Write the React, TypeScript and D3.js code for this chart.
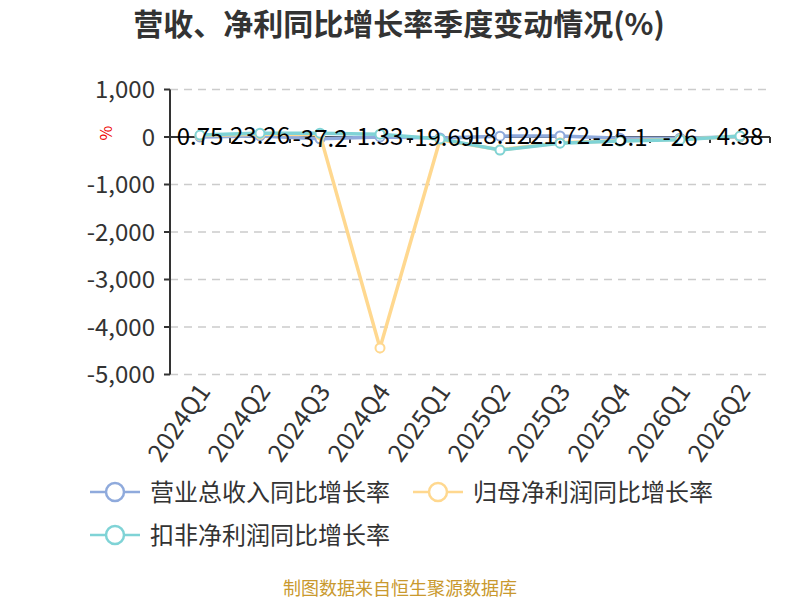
import React from "react";
import * as d3 from "d3";

const categories = ["2024Q1","2024Q2","2024Q3","2024Q4","2025Q1","2025Q2","2025Q3","2025Q4","2026Q1","2026Q2"];
const revenueGrowth = [0.75, 23.26, -37.2, 1.33, -19.69, 18.12, 21.72, -25.1, -26, 4.38];
const netProfitGrowth = [30, 60, 50, -4440, -60, -270, -120, -80, -50, 15];
const deductedProfitGrowth = [40, 80, 80, 60, -40, -275, -130, -85, -60, 20];
const yTicks = [1000, 0, -1000, -2000, -3000, -4000, -5000];

const seriesNames = ["营业总收入同比增长率", "归母净利润同比增长率", "扣非净利润同比增长率"];
const colors = ["#8FAADC", "#FFD88F", "#7FD3D6"];

const W = 800, H = 600;
const left = 170, right = 770, top = 89.5, bottom = 374.5;
const font = "'Microsoft YaHei', 'Noto Sans CJK SC', sans-serif";

export default function App() {
  const x = d3.scaleBand().domain(categories).range([left, right]);
  const y = d3.scaleLinear().domain([-5000, 1000]).range([bottom, top]);
  const cx = (c: string) => (x(c) as number) + x.bandwidth() / 2;
  const line = d3.line<number>().x((_, i) => cx(categories[i])).y((d) => y(d));
  const series = [revenueGrowth, netProfitGrowth, deductedProfitGrowth];
  const fmt = d3.formatLocale({ decimal: ".", thousands: ",", grouping: [3], currency: ["", ""], minus: "-" }).format(",");
  const y0 = y(0);

  return (
    <svg width={W} height={H} style={{ position: "absolute", left: 0, top: 0, background: "#fff" }} fontFamily={font}>
      <text x={399} y={35} textAnchor="middle" fontSize={30} fontWeight="bold" fill="#333">营收、净利同比增长率季度变动情况(%)</text>
      {/* grid */}
      {yTicks.filter((t) => t !== 0).map((t) => (
        <line key={t} x1={left} x2={right} y1={y(t)} y2={y(t)} stroke="#ccc" strokeDasharray="8,6" strokeWidth={1.5} />
      ))}
      {/* y axis */}
      <line x1={left} x2={left} y1={top} y2={bottom} stroke="#333" strokeWidth={2} />
      {yTicks.map((t) => (
        <g key={t}>
          <line x1={left - 6} x2={left} y1={y(t)} y2={y(t)} stroke="#333" strokeWidth={2} />
          <text x={left - 15} y={y(t)} dy="0.36em" textAnchor="end" fontSize={24} fill="#333">{fmt(t)}</text>
        </g>
      ))}
      <text transform={`translate(106,${y0 - 4}) rotate(-90)`} textAnchor="middle" fontSize={16} fill="#e00" dy="0.36em">%</text>
      {/* x axis at zero */}
      <line x1={left} x2={right} y1={y0} y2={y0} stroke="#333" strokeWidth={2} />
      {categories.map((c) => (
        <line key={c} x1={x(c) as number} x2={x(c) as number} y1={y0} y2={y0 + 6} stroke="#333" strokeWidth={2} />
      ))}
      <line x1={right} x2={right} y1={y0} y2={y0 + 6} stroke="#333" strokeWidth={2} />
      {categories.map((c) => (
        <text key={c} transform={`translate(${cx(c) + 4},${bottom + 12}) rotate(-55)`} textAnchor="end" dy="0.36em" fontSize={25} fill="#333">{c}</text>
      ))}
      {/* lines */}
      {series.map((s, k) => (
        <g key={k}>
          <path d={line(s) || ""} fill="none" stroke={colors[k]} strokeWidth={3.5} />
          {s.map((v, i) => (
            <circle key={i} cx={cx(categories[i])} cy={y(v)} r={4.5} fill="#fff" stroke={colors[k]} strokeWidth={2} />
          ))}
        </g>
      ))}
      {/* labels */}
      {revenueGrowth.map((v, i) => (
        <text key={i} x={cx(categories[i])} y={y(v) + 8} textAnchor="middle" fontSize={24} fill="#000">{String(v)}</text>
      ))}
      {/* legend */}
      {seriesNames.map((n, k) => {
        const lx = k === 1 ? 413 : 90;
        const ly = k === 2 ? 535 : 492;
        return (
          <g key={n}>
            <line x1={lx} x2={lx + 50} y1={ly} y2={ly} stroke={colors[k]} strokeWidth={2.5} />
            <circle cx={lx + 25} cy={ly} r={9} fill="#fff" stroke={colors[k]} strokeWidth={2.5} />
            <text x={lx + 60} y={ly} dy="0.36em" fontSize={24} fill="#333">{n}</text>
          </g>
        );
      })}
      <text x={400} y={595} textAnchor="middle" fontSize={18} fill="#C9992E">制图数据来自恒生聚源数据库</text>
    </svg>
  );
}
